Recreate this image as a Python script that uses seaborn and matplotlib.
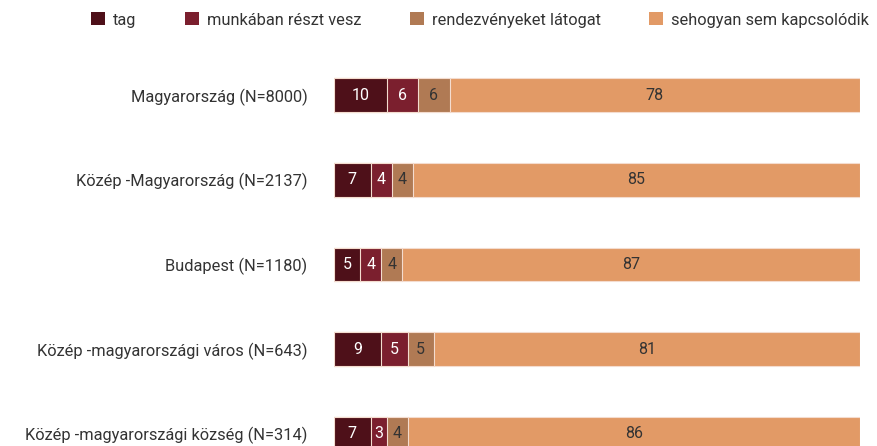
import numpy as np
import pandas as pd
import matplotlib
matplotlib.use("Agg")
import matplotlib.pyplot as plt
import seaborn as sns
from matplotlib.patches import Patch

# Adatok
categories = [
    "Magyarország (N=8000)",
    "Közép -Magyarország (N=2137)",
    "Budapest (N=1180)",
    "Közép -magyarországi város (N=643)",
    "Közép -magyarországi község (N=314)",
]
series_names = ["tag", "munkában részt vesz", "rendezvényeket látogat", "sehogyan sem kapcsolódik"]
tag = [10, 7, 5, 9, 7]
munka = [6, 4, 4, 5, 3]
rendezveny = [6, 4, 4, 5, 4]
sehogyan = [78, 85, 87, 81, 86]

colors = ["#4e1019", "#7b1f2e", "#b07a54", "#e29a66"]
label_colors = ["white", "white", "#333333", "#333333"]

sns.set_theme(style="white")
plt.rcParams["font.family"] = ["Roboto", "DejaVu Sans"]

values = np.array([tag, munka, rendezveny, sehogyan], dtype=float)
cum = values.cumsum(axis=0)

fig = plt.figure(figsize=(8.78, 4.46), dpi=100)
ax = fig.add_axes([334 / 878, 0, 526 / 878, 401 / 446])

# Halmozott sávok: a leghosszabbtól visszafelé rajzolva
for i in range(len(series_names) - 1, -1, -1):
    df = pd.DataFrame({"kat": categories, "ertek": cum[i]})
    sns.barplot(data=df, x="ertek", y="kat", orient="h", color=colors[i],
                width=0.4, edgecolor="#f4dccf", linewidth=0.8, saturation=1,
                ax=ax)

# Értékcímkék a szegmensek közepén
for i in range(len(series_names)):
    left = cum[i] - values[i]
    for j in range(len(categories)):
        ax.text(left[j] + values[i][j] / 2, j, f"{values[i][j]:.0f}",
                ha="center", va="center", fontsize=11.5, color=label_colors[i])

ax.set_xlim(0, 100)
ax.set_ylim(4.145, -0.595)
ax.set_xlabel("")
ax.set_ylabel("")
ax.set_xticks([])
ax.tick_params(axis="y", length=0, pad=19, labelsize=11.8, labelcolor="#333333")
sns.despine(ax=ax, left=True, bottom=True)

handles = [Patch(facecolor=c, edgecolor="none") for c in colors]
fig.legend(handles, series_names, loc="center", bbox_to_anchor=(480 / 878, 1 - 20 / 446),
           ncol=4, frameon=False, fontsize=11.8, handlelength=0.85, handleheight=0.85,
           handletextpad=0.5, columnspacing=2.95, labelcolor="#333333")

fig.savefig("out.png", dpi=100)
